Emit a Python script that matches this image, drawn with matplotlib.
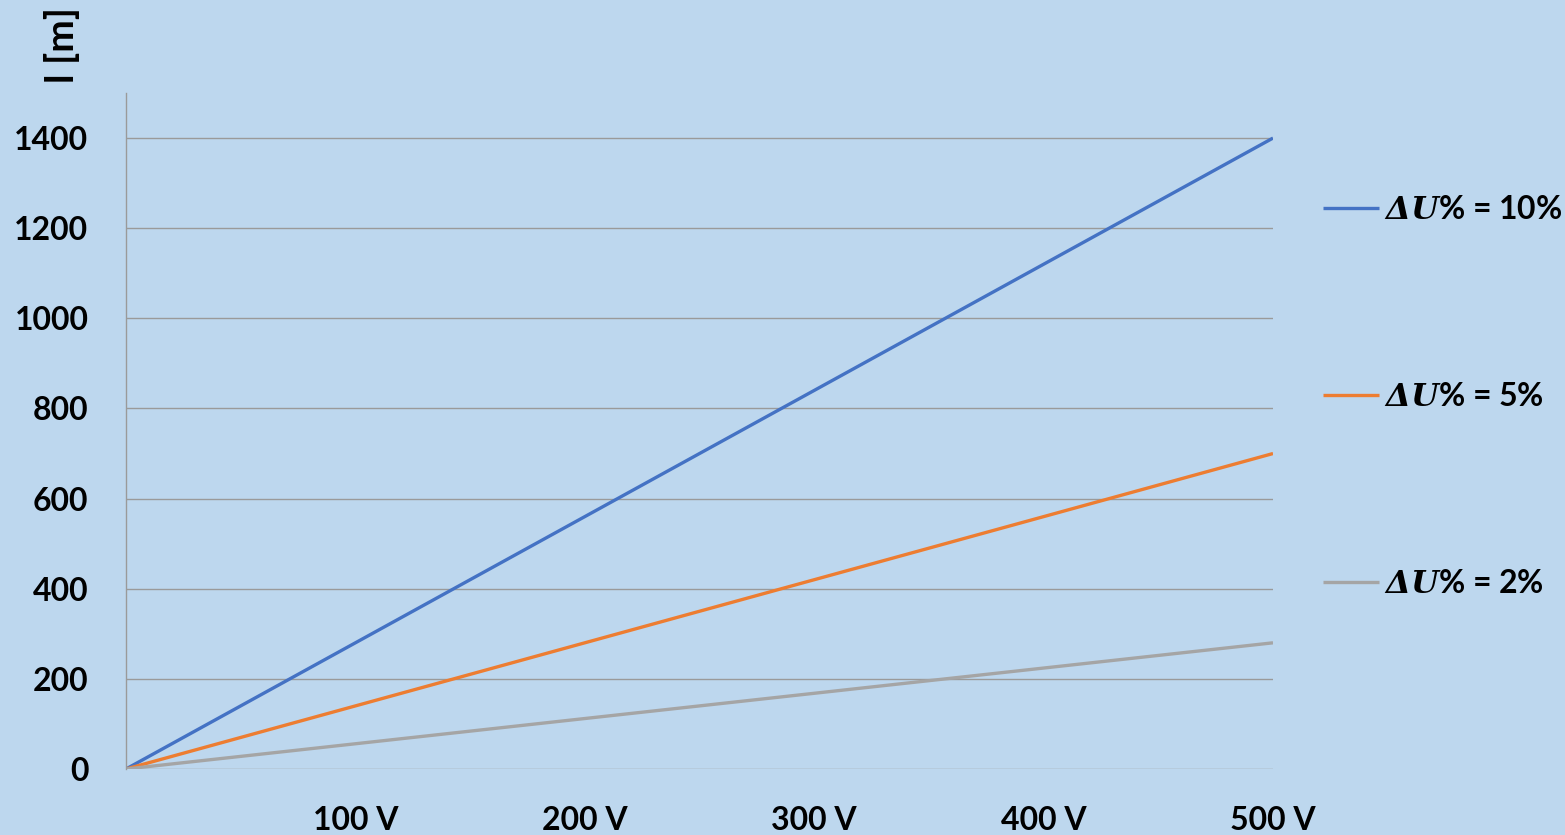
import matplotlib
matplotlib.use("Agg")
import matplotlib.pyplot as plt

# data
voltage = [0, 100, 200, 300, 400, 500]
length_10 = [0, 280, 560, 840, 1120, 1400]
length_5 = [0, 140, 280, 420, 560, 700]
length_2 = [0, 56, 112, 168, 224, 280]
series_labels = [r"$\mathbfit{\Delta U}$% = 10%",
                 r"$\mathbfit{\Delta U}$% = 5%",
                 r"$\mathbfit{\Delta U}$% = 2%"]
x_ticks = [100, 200, 300, 400, 500]
x_tick_labels = ["100 V", "200 V", "300 V", "400 V", "500 V"]
y_ticks = [0, 200, 400, 600, 800, 1000, 1200, 1400]

plt.rcParams["font.family"] = ["Lato", "DejaVu Sans"]
plt.rcParams["font.weight"] = "bold"
plt.rcParams["mathtext.fontset"] = "custom"
plt.rcParams["mathtext.bfit"] = "DejaVu Serif:bold:italic"

BG = "#BDD7EE"
fig = plt.figure(figsize=(15.65, 8.35), dpi=100, facecolor=BG)
ax = fig.add_axes([126 / 1565, 1 - 769 / 835, (1273 - 126) / 1565, (769 - 93) / 835])
ax.set_facecolor(BG)

colors = ["#4472C4", "#ED7D31", "#A5A5A5"]
for ys, c, lab in zip([length_10, length_5, length_2], colors, series_labels):
    ax.plot(voltage, ys, color=c, lw=2.4, label=lab, solid_capstyle="butt")

ax.set_xlim(0, 500)
ax.set_ylim(0, 1500)
ax.set_xticks(x_ticks)
ax.set_xticklabels(x_tick_labels)
ax.set_yticks(y_ticks)
ax.tick_params(length=0, labelsize=23)
ax.tick_params(axis="y", pad=27)
ax.tick_params(axis="x", pad=27)
ax.grid(axis="y", color="#9A9A9A", lw=1)
ax.set_axisbelow(True)
for s in ["top", "right", "bottom"]:
    ax.spines[s].set_visible(False)
ax.spines["left"].set_color("#9A9A9A")
ax.spines["left"].set_linewidth(1)

fig.text(62 / 1565, 1 - 45 / 835, "l [m]", rotation=90, fontsize=28,
         fontweight="bold", ha="center", va="center")

ax.legend(loc="upper left", bbox_to_anchor=(1323 / 1565, 1 - 195 / 835),
          bbox_transform=fig.transFigure, frameon=False, fontsize=23,
          handlelength=1.75, handletextpad=0.15, labelspacing=4.95,
          borderaxespad=0, borderpad=0)

fig.savefig("out.png", dpi=100, facecolor=BG)
